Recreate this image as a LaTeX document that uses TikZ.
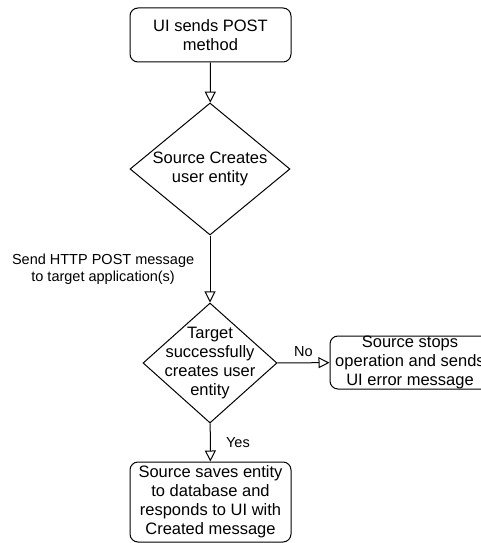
\documentclass[tikz,border=0pt]{standalone}
\usepackage{fontspec}
\setmainfont{Liberation Sans}
\usetikzlibrary{shapes.geometric, arrows.meta, positioning}

\begin{document}
\begin{tikzpicture} [x = 1pt, y = -1pt, line width = 1pt,
    box/.style = {rectangle, draw, rounded corners = 8pt, align = center, inner sep = 0pt,
        minimum width = 161pt, font = \fontsize{16.5}{19}\selectfont},
    decision/.style = {diamond, draw, inner sep = 0pt},
    txt/.style = {align = center, font = \fontsize{16.5}{19}\selectfont},
    lbl/.style = {align = center, font = \fontsize{14.5}{17.5}\selectfont},
    arr/.style = {-{Triangle[open, length = 11pt, width = 11pt]}}]
    \clip (0,0) rectangle (481,543);
    \node (start) [box, minimum height = 54pt] at (210.5,35) {UI sends POST\\method};
    \node (create) [decision, minimum width = 160pt, minimum height = 132pt,
        label = {[txt]center:Source Creates\\user entity}] at (210,169) {};
    \node (target) [decision, minimum width = 134pt, minimum height = 120pt,
        label = {[txt]center:Target\\successfully\\creates user\\entity}] at (210,363) {};
    \node (stop) [box, minimum width = 160pt, minimum height = 53pt] at (410,362.5) {Source stops\\operation and sends\\UI error message};
    \node (save) [box, minimum height = 80pt] at (210.5,502) {Source saves entity\\to database and\\responds to UI with\\Created message};
    \path [arr]
    (start) edge (create)
    (create) edge node [lbl, left = 12pt] {Send HTTP POST message\\to target application(s)} (target)
    (target) edge node [lbl, above = 2pt] {No} (stop)
    (target) edge node [lbl, right = 12pt] {Yes} (save);

\end{tikzpicture}
\end{document}
